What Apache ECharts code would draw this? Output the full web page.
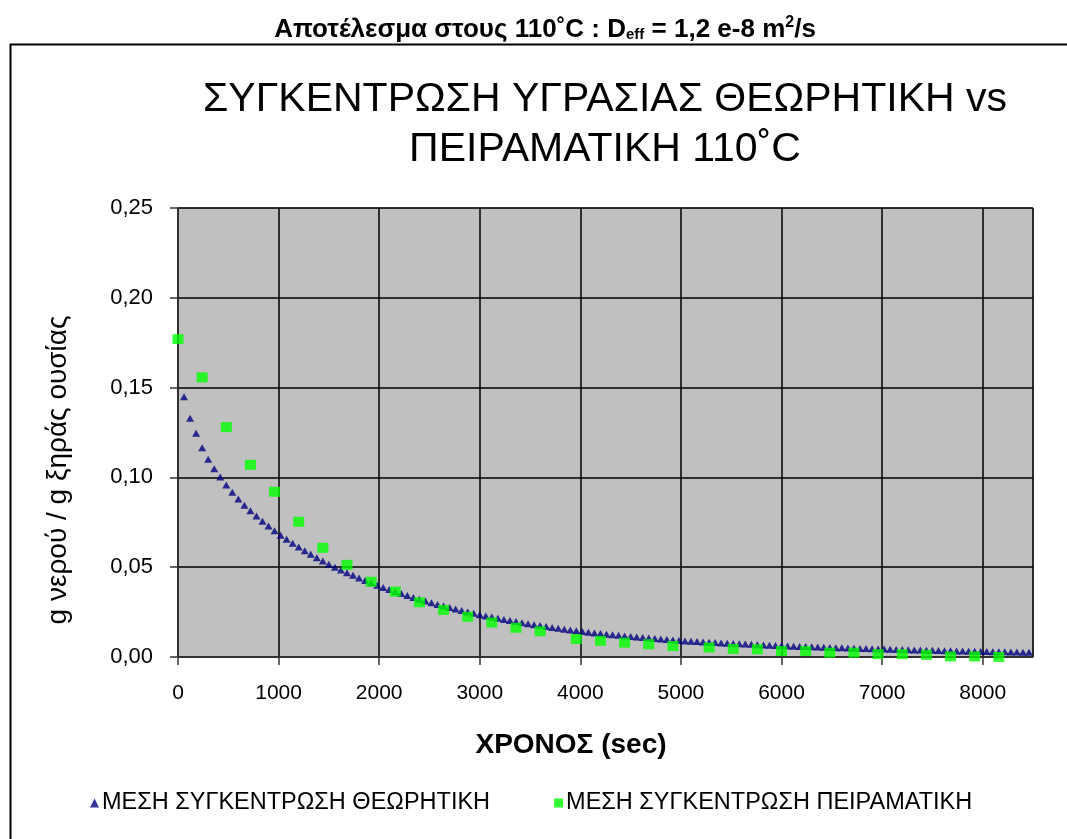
<!DOCTYPE html>
<html>
<head>
<meta charset="utf-8">
<script src="https://cdn.jsdelivr.net/npm/echarts@6/dist/echarts.min.js"></script>
<style>
  html, body { margin: 0; padding: 0; background: #ffffff; }
  #chart { width: 1067px; height: 839px; }
</style>
</head>
<body>
<div id="chart"></div>
<script>
// Time axis ticks (sec) and moisture axis ticks (g water / g dry solid)
const xTicks = [0, 1000, 2000, 3000, 4000, 5000, 6000, 7000, 8000];
const yTicks = [0, 0.05, 0.10, 0.15, 0.20, 0.25];

// Theoretical mean moisture content, one value per 60 s
const theoryTime = [
  60, 120, 180, 240, 300, 360, 420, 480, 540, 600,
  660, 720, 780, 840, 900, 960, 1020, 1080, 1140, 1200,
  1260, 1320, 1380, 1440, 1500, 1560, 1620, 1680, 1740, 1800,
  1860, 1920, 1980, 2040, 2100, 2160, 2220, 2280, 2340, 2400,
  2460, 2520, 2580, 2640, 2700, 2760, 2820, 2880, 2940, 3000,
  3060, 3120, 3180, 3240, 3300, 3360, 3420, 3480, 3540, 3600,
  3660, 3720, 3780, 3840, 3900, 3960, 4020, 4080, 4140, 4200,
  4260, 4320, 4380, 4440, 4500, 4560, 4620, 4680, 4740, 4800,
  4860, 4920, 4980, 5040, 5100, 5160, 5220, 5280, 5340, 5400,
  5460, 5520, 5580, 5640, 5700, 5760, 5820, 5880, 5940, 6000,
  6060, 6120, 6180, 6240, 6300, 6360, 6420, 6480, 6540, 6600,
  6660, 6720, 6780, 6840, 6900, 6960, 7020, 7080, 7140, 7200,
  7260, 7320, 7380, 7440, 7500, 7560, 7620, 7680, 7740, 7800,
  7860, 7920, 7980, 8040, 8100, 8160, 8220, 8280, 8340, 8400,
  8460
];
const theoryMoisture = [
  0.1449, 0.1329, 0.1246, 0.1165, 0.1101, 0.1048, 0.1002, 0.0958, 0.0917, 0.0880,
  0.0845, 0.0815, 0.0785, 0.0756, 0.0729, 0.0703, 0.0678, 0.06553, 0.06334, 0.06123,
  0.05918, 0.05720, 0.05529, 0.05344, 0.05165, 0.05003, 0.04845, 0.04693, 0.04545, 0.04402,
  0.04263, 0.04129, 0.03999, 0.03873, 0.03755, 0.03640, 0.03529, 0.03421, 0.03317, 0.03216,
  0.03118, 0.03022, 0.02930, 0.02841, 0.02754, 0.02670, 0.02588, 0.02509, 0.02433, 0.02359,
  0.02289, 0.02221, 0.02156, 0.02092, 0.02030, 0.01970, 0.01912, 0.01855, 0.01801, 0.01747,
  0.01696, 0.01646, 0.01597, 0.01550, 0.01504, 0.01460, 0.01417, 0.01379, 0.01342, 0.01306,
  0.01272, 0.01238, 0.01205, 0.01173, 0.01141, 0.01111, 0.01081, 0.01053, 0.01025, 0.00997,
  0.00971, 0.00945, 0.00920, 0.00895, 0.00876, 0.00857, 0.00838, 0.00820, 0.00802, 0.00784,
  0.00767, 0.00751, 0.00734, 0.00718, 0.00703, 0.00687, 0.00672, 0.00658, 0.00644, 0.00630,
  0.00616, 0.00604, 0.00591, 0.00579, 0.00567, 0.00555, 0.00544, 0.00532, 0.00521, 0.00510,
  0.00500, 0.00489, 0.00479, 0.00469, 0.00459, 0.00450, 0.00441, 0.00431, 0.00422, 0.00412,
  0.00403, 0.00395, 0.00386, 0.00378, 0.00370, 0.00361, 0.00354, 0.00346, 0.00338, 0.00331,
  0.00324, 0.00317, 0.00310, 0.00303, 0.00297, 0.00291, 0.00286, 0.00280, 0.00274, 0.00269,
  0.00264
];

// Measured mean moisture content
const expTime = [
  0, 240, 480, 720, 960, 1200, 1440, 1680, 1920, 2160,
  2400, 2640, 2880, 3120, 3360, 3600, 3960, 4200, 4440, 4680,
  4920, 5280, 5520, 5760, 6000, 6240, 6480, 6720, 6960, 7200,
  7440, 7680, 7920, 8160
];
const expMoisture = [
  0.177, 0.1557, 0.128, 0.107, 0.092, 0.0753, 0.0608, 0.0513, 0.0419, 0.0364,
  0.0305, 0.0262, 0.0224, 0.0192, 0.0163, 0.0143, 0.0100, 0.0090, 0.0080, 0.0071,
  0.0061, 0.0053, 0.0045, 0.0043, 0.0033, 0.0033, 0.0024, 0.0024, 0.0016, 0.0016,
  0.0012, 0.0003, 0.0003, 0.0000
];

const seriesNames = ['ΜΕΣΗ ΣΥΓΚΕΝΤΡΩΣΗ ΘΕΩΡΗΤΙΚΗ', 'ΜΕΣΗ ΣΥΓΚΕΝΤΡΩΣΗ ΠΕΙΡΑΜΑΤΙΚΗ'];
const yAxisTitle = 'g νερού / g ξηράς ουσίας';
const xAxisTitle = 'ΧΡΟΝΟΣ (sec)';

const pairs = (xs, ys) => xs.map((x, i) => [x, ys[i]]);
const FONT = '"Liberation Sans", Arial, sans-serif';
const HEAD_FONT = '"Liberation Sans Narrow", "Liberation Sans", sans-serif';

const chart = echarts.init(document.getElementById('chart'), null, { renderer: 'canvas' });

chart.setOption({
  backgroundColor: '#ffffff',
  animation: false,
  title: [
    {
      text: '{b|Αποτέλεσμα στους 110˚C : D}{sub|eff}{b| = 1,2 e-8 m}{sup|2}{b|/s}',
      left: 540,
      top: 10,
      textAlign: 'center',
      textStyle: {
        rich: {
          b: { fontFamily: HEAD_FONT, fontWeight: 'bold', fontSize: 26, color: '#000' },
          sub: { fontFamily: HEAD_FONT, fontWeight: 'bold', fontSize: 15, color: '#000', padding: [11, 0, 0, 0] },
          sup: { fontFamily: HEAD_FONT, fontWeight: 'bold', fontSize: 16, color: '#000', padding: [0, 0, 13, 0] }
        }
      }
    },
    {
      text: 'ΣΥΓΚΕΝΤΡΩΣΗ ΥΓΡΑΣΙΑΣ ΘΕΩΡΗΤΙΚΗ vs\nΠΕΙΡΑΜΑΤΙΚΗ 110˚C',
      left: 600,
      top: 70,
      textAlign: 'center',
      textStyle: {
        fontFamily: FONT,
        fontWeight: 'normal',
        fontSize: 41,
        lineHeight: 50,
        color: '#000'
      }
    }
  ],
  graphic: [
    {
      type: 'rect',
      shape: { x: 10.5, y: 44.5, width: 1100, height: 900 },
      style: { fill: 'none', stroke: '#000', lineWidth: 2 },
      z: -1
    },
    {
      type: 'text',
      x: 58,
      y: 470,
      rotation: Math.PI / 2,
      style: {
        text: yAxisTitle,
        fontFamily: FONT,
        fontSize: 28,
        fill: '#000',
        align: 'center',
        verticalAlign: 'middle'
      }
    },
    {
      type: 'text',
      x: 571,
      y: 745,
      style: {
        text: xAxisTitle,
        fontFamily: FONT,
        fontWeight: 'bold',
        fontSize: 28,
        fill: '#000',
        align: 'center',
        verticalAlign: 'middle'
      }
    }
  ],
  legend: {
    left: 85,
    top: 786,
    itemGap: 64,
    itemWidth: 9,
    itemHeight: 9,
    textStyle: { fontFamily: FONT, fontSize: 23.5, color: '#000', padding: [0, 0, 0, -2] },
    data: [
      { name: seriesNames[0], icon: 'triangle', itemStyle: { color: '#000080' } },
      { name: seriesNames[1], icon: 'rect', itemStyle: { color: '#00ff00' } }
    ]
  },
  grid: {
    left: 178,
    top: 208,
    width: 855,
    height: 449,
    show: true,
    backgroundColor: '#c0c0c0',
    borderColor: '#808080',
    borderWidth: 1
  },
  xAxis: {
    type: 'value',
    min: 0,
    max: 8500,
    interval: 1000,
    axisLine: { show: true, onZero: false, lineStyle: { color: '#333', width: 1.5 } },
    axisTick: { show: true, inside: false, length: 8, lineStyle: { color: '#333', width: 1.5 } },
    axisLabel: {
      show: true,
      showMaxLabel: false,
      margin: 26,
      fontFamily: FONT,
      fontSize: 21,
      color: '#000',
      formatter: v => (xTicks.indexOf(v) >= 0 ? String(v) : '')
    },
    splitLine: { show: true, lineStyle: { color: '#000', width: 1.5 } }
  },
  yAxis: {
    type: 'value',
    min: yTicks[0],
    max: yTicks[yTicks.length - 1],
    interval: 0.05,
    axisLine: { show: true, lineStyle: { color: '#333', width: 1.5 } },
    axisTick: { show: true, inside: false, length: 8, lineStyle: { color: '#333', width: 1.5 } },
    axisLabel: {
      margin: 25,
      fontFamily: FONT,
      fontSize: 22,
      color: '#000',
      formatter: v => v.toFixed(2).replace('.', ',')
    },
    splitLine: { show: true, lineStyle: { color: '#000', width: 1.5 } }
  },
  series: [
    {
      name: seriesNames[0],
      type: 'scatter',
      symbol: 'triangle',
      symbolSize: [8, 7],
      itemStyle: { color: '#000080' },
      data: pairs(theoryTime, theoryMoisture),
      z: 2
    },
    {
      name: seriesNames[1],
      type: 'scatter',
      symbol: 'rect',
      symbolSize: [11, 10],
      itemStyle: { color: '#00ff00' },
      data: pairs(expTime, expMoisture),
      z: 3
    }
  ]
});
</script>
</body>
</html>
